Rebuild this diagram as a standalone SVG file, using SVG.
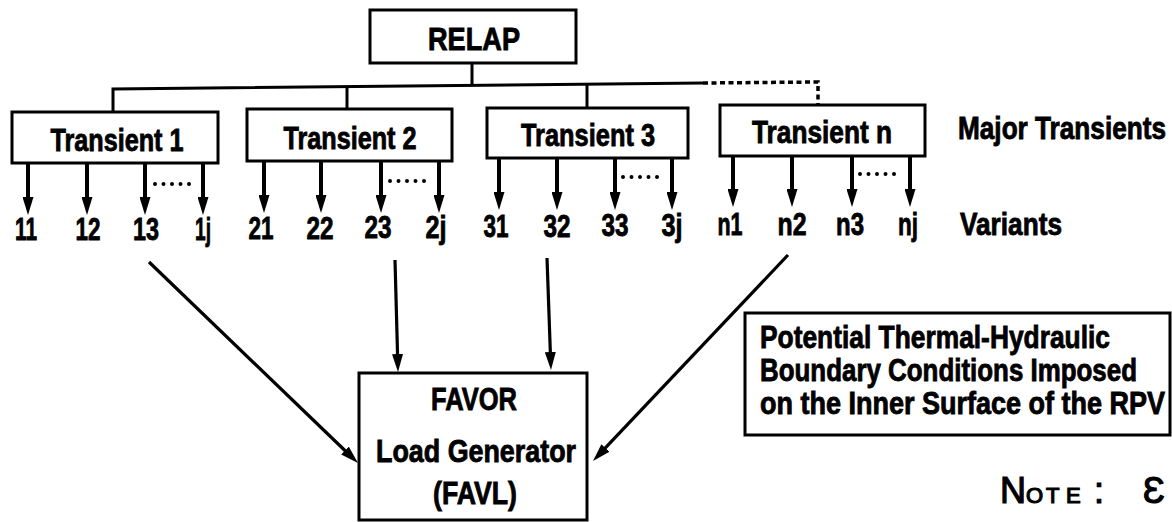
<svg xmlns="http://www.w3.org/2000/svg" width="1172" height="522" viewBox="0 0 1172 522">
<defs>
<style>
.box{fill:#fff;stroke:#000;stroke-width:3}
.t{font-family:"Liberation Sans",Arial,sans-serif;font-weight:bold;font-size:26px;fill:#000;stroke:#000;stroke-width:0.7}
.c{text-anchor:middle}
.ln{fill:none;stroke:#000;stroke-width:3}
.ar{fill:none;stroke:#000;stroke-width:4;marker-end:url(#ah)}
.ar2{fill:none;stroke:#000;stroke-width:3.2;marker-end:url(#ah)}
.dash{fill:none;stroke:#000;stroke-width:3.5;stroke-dasharray:5 3.5}
.dots{fill:none;stroke:#000;stroke-width:4;stroke-linecap:round;stroke-dasharray:0 8.5}
.note{font-family:"Liberation Sans","DejaVu Sans",sans-serif;font-weight:normal;fill:#000;stroke:#000;stroke-width:1.2}
</style>
<marker id="ah" viewBox="0 0 18 11" refX="10" refY="5.5" markerWidth="18" markerHeight="11" markerUnits="userSpaceOnUse" orient="auto">
<path d="M0,0 L18,5.5 L0,11 z" fill="#000"/>
</marker>
</defs>
<rect width="1172" height="522" fill="#fff"/>

<g id="connectors">
<line class="ln" x1="472" y1="63" x2="472" y2="85"/>
<polyline class="ln" points="113,112 113,89 703,83"/>
<line class="ln" x1="347" y1="86" x2="347" y2="109"/>
<line class="ln" x1="587" y1="84" x2="587" y2="108"/>
<polyline class="dash" points="703,83 818,82 818,105"/>
<line class="ar" x1="28" y1="163" x2="28" y2="207"/>
<line class="ar" x1="87" y1="163" x2="87" y2="207"/>
<line class="ar" x1="145" y1="163" x2="145" y2="207"/>
<line class="ar" x1="203" y1="163" x2="203" y2="207"/>
<line class="ar" x1="264" y1="161" x2="264" y2="205"/>
<line class="ar" x1="321" y1="161" x2="321" y2="205"/>
<line class="ar" x1="381" y1="161" x2="381" y2="205"/>
<line class="ar" x1="439" y1="161" x2="439" y2="205"/>
<line class="ar" x1="499" y1="158" x2="499" y2="202"/>
<line class="ar" x1="557" y1="158" x2="557" y2="202"/>
<line class="ar" x1="615" y1="158" x2="615" y2="202"/>
<line class="ar" x1="672" y1="158" x2="672" y2="202"/>
<line class="ar" x1="733" y1="156" x2="733" y2="199"/>
<line class="ar" x1="792" y1="156" x2="792" y2="199"/>
<line class="ar" x1="852" y1="156" x2="852" y2="199"/>
<line class="ar" x1="910" y1="156" x2="910" y2="199"/>
<line class="dots" x1="155" y1="184" x2="190" y2="184"/>
<line class="dots" x1="390" y1="181" x2="425" y2="181"/>
<line class="dots" x1="623" y1="177" x2="658" y2="177"/>
<line class="dots" x1="860" y1="174" x2="895" y2="174"/>
<line class="ar2" x1="149" y1="262" x2="352.2" y2="457.5"/>
<line class="ar2" x1="395" y1="260" x2="397.8" y2="364"/>
<line class="ar2" x1="547" y1="258" x2="550.7" y2="362"/>
<line class="ar2" x1="788" y1="255" x2="598.5" y2="455.2"/>
</g>

<g id="relap">
<rect class="box" x="370" y="10" width="206" height="53"/>
<text class="t c" transform="translate(474,50) scale(1,1.18)" textLength="92" lengthAdjust="spacingAndGlyphs">RELAP</text>
</g>
<g id="transient-1">
<rect class="box" x="12" y="112" width="206" height="51"/>
<text class="t c" transform="translate(117,151) scale(1,1.18)" textLength="133" lengthAdjust="spacingAndGlyphs">Transient 1</text>
</g>
<g id="transient-2">
<rect class="box" x="247" y="109" width="205" height="52"/>
<text class="t c" transform="translate(350,149) scale(1,1.18)" textLength="133" lengthAdjust="spacingAndGlyphs">Transient 2</text>
</g>
<g id="transient-3">
<rect class="box" x="487" y="108" width="201" height="50"/>
<text class="t c" transform="translate(588,146) scale(1,1.18)" textLength="134" lengthAdjust="spacingAndGlyphs">Transient 3</text>
</g>
<g id="transient-n">
<rect class="box" x="720" y="105" width="205" height="51"/>
<text class="t c" transform="translate(822,143) scale(1,1.18)" textLength="140" lengthAdjust="spacingAndGlyphs">Transient n</text>
</g>

<g id="variants">
<text class="t c" transform="translate(26,240) scale(1,1.18)" textLength="22" lengthAdjust="spacingAndGlyphs">11</text>
<text class="t c" transform="translate(88,240) scale(1,1.18)" textLength="25" lengthAdjust="spacingAndGlyphs">12</text>
<text class="t c" transform="translate(146,240) scale(1,1.18)" textLength="26" lengthAdjust="spacingAndGlyphs">13</text>
<text class="t c" transform="translate(203,240) scale(1,1.18)" textLength="16" lengthAdjust="spacingAndGlyphs">1j</text>
<text class="t c" transform="translate(261,239) scale(1,1.18)" textLength="25" lengthAdjust="spacingAndGlyphs">21</text>
<text class="t c" transform="translate(320,239) scale(1,1.18)" textLength="27" lengthAdjust="spacingAndGlyphs">22</text>
<text class="t c" transform="translate(378,238) scale(1,1.18)" textLength="27" lengthAdjust="spacingAndGlyphs">23</text>
<text class="t c" transform="translate(436,238) scale(1,1.18)" textLength="21" lengthAdjust="spacingAndGlyphs">2j</text>
<text class="t c" transform="translate(496,237) scale(1,1.18)" textLength="25" lengthAdjust="spacingAndGlyphs">31</text>
<text class="t c" transform="translate(557,237) scale(1,1.18)" textLength="27" lengthAdjust="spacingAndGlyphs">32</text>
<text class="t c" transform="translate(615,236) scale(1,1.18)" textLength="27" lengthAdjust="spacingAndGlyphs">33</text>
<text class="t c" transform="translate(672,236) scale(1,1.18)" textLength="21" lengthAdjust="spacingAndGlyphs">3j</text>
<text class="t c" transform="translate(730,235) scale(1,1.18)" textLength="25" lengthAdjust="spacingAndGlyphs">n1</text>
<text class="t c" transform="translate(792,235) scale(1,1.18)" textLength="29" lengthAdjust="spacingAndGlyphs">n2</text>
<text class="t c" transform="translate(850,235) scale(1,1.18)" textLength="28" lengthAdjust="spacingAndGlyphs">n3</text>
<text class="t c" transform="translate(908,235) scale(1,1.18)" textLength="20" lengthAdjust="spacingAndGlyphs">nj</text>
</g>

<g id="labels">
<text class="t" transform="translate(958,139) scale(1,1.18)" textLength="208" lengthAdjust="spacingAndGlyphs">Major Transients</text>
<text class="t" transform="translate(960,235) scale(1,1.18)" textLength="102" lengthAdjust="spacingAndGlyphs">Variants</text>
</g>

<g id="favor">
<rect class="box" x="359" y="373" width="228" height="147"/>
<text class="t c" transform="translate(474,410) scale(1,1.18)" textLength="86" lengthAdjust="spacingAndGlyphs">FAVOR</text>
<text class="t c" transform="translate(476,462) scale(1,1.18)" textLength="200" lengthAdjust="spacingAndGlyphs">Load Generator</text>
<text class="t c" transform="translate(475,504) scale(1,1.18)" textLength="84" lengthAdjust="spacingAndGlyphs">(FAVL)</text>
</g>

<g id="boundary-conditions">
<rect class="box" x="745" y="313" width="425" height="122"/>
<text class="t" transform="translate(760,348) scale(1,1.18)" textLength="350" lengthAdjust="spacingAndGlyphs">Potential Thermal-Hydraulic</text>
<text class="t" transform="translate(760,381) scale(1,1.18)" textLength="377" lengthAdjust="spacingAndGlyphs">Boundary Conditions Imposed</text>
<text class="t" transform="translate(760,414) scale(1,1.18)" textLength="405" lengthAdjust="spacingAndGlyphs">on the Inner Surface of the RPV</text>
</g>

<g id="note">
<text class="note" x="1000" y="503" font-size="36">N<tspan font-size="22" x="1026">O</tspan><tspan font-size="22" x="1046">T</tspan><tspan font-size="22" x="1066">E</tspan><tspan x="1094">:</tspan><tspan x="1143">Ɛ</tspan></text>
</g>
</svg>
